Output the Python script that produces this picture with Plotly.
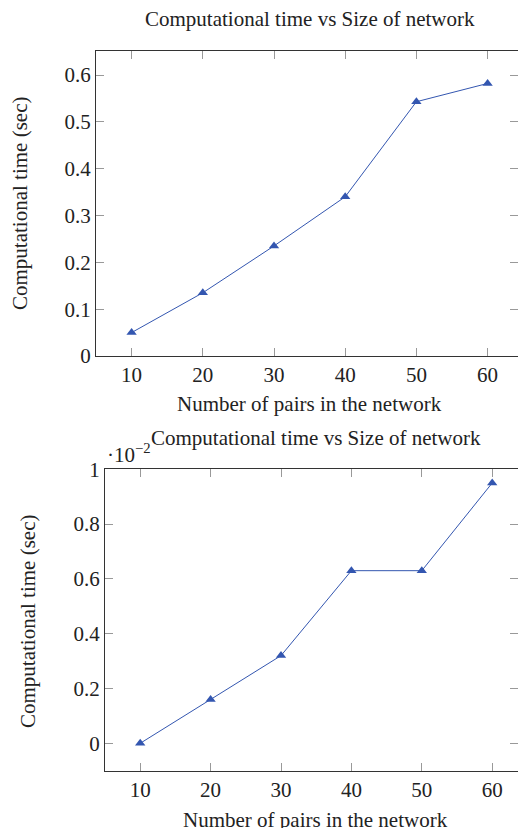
import plotly.graph_objects as go

# ---- data ----
pairs = [10, 20, 30, 40, 50, 60]
time_top = [0.05, 0.135, 0.235, 0.34, 0.543, 0.582]          # seconds
time_bottom = [0.0, 0.16, 0.32, 0.63, 0.63, 0.95]            # x 10^-2 seconds
x_ticks = [10, 20, 30, 40, 50, 60]
y_ticks_top = [0, 0.1, 0.2, 0.3, 0.4, 0.5, 0.6]
y_tick_text_top = ["0", "0.1", "0.2", "0.3", "0.4", "0.5", "0.6"]
y_ticks_bottom = [0, 0.2, 0.4, 0.6, 0.8, 1.0]
y_tick_text_bottom = ["0", "0.2", "0.4", "0.6", "0.8", "1"]
title_text = "Computational time vs Size of network"
xlabel = "Number of pairs in the network"
ylabel = "Computational time (sec)"

W, H = 518, 828
FONT = "Liberation Serif"
LINE_BLUE = "#3356b0"
TXT = "#222222"

def px(x):
    return x / W

def py(y):
    return 1 - y / H

fig = go.Figure()
fig.add_trace(go.Scatter(x=pairs, y=time_top, mode="lines+markers",
                         line=dict(color=LINE_BLUE, width=1),
                         marker=dict(symbol="triangle-up", size=9, color=LINE_BLUE),
                         xaxis="x", yaxis="y", showlegend=False))
fig.add_trace(go.Scatter(x=pairs, y=time_bottom, mode="lines+markers",
                         line=dict(color=LINE_BLUE, width=1),
                         marker=dict(symbol="triangle-up", size=9, color=LINE_BLUE),
                         xaxis="x2", yaxis="y2", showlegend=False))

common = dict(showgrid=False, zeroline=False, showline=True, linecolor="#333333",
              linewidth=1.2, ticks="inside", ticklen=8, tickcolor="#999999",
              tickwidth=1, mirror="ticks", automargin=False,
              tickfont=dict(family=FONT, size=21, color=TXT))

fig.update_layout(
    template="none",
    font=dict(family=FONT, size=21, color=TXT),
    width=W, height=H,
    margin=dict(l=0, r=0, t=0, b=0, pad=0, autoexpand=False),
    paper_bgcolor="white", plot_bgcolor="white",
    xaxis=dict(domain=[px(96), 1.0], range=[5, 5 + (518 - 96) / 7.12],
               tickvals=x_ticks, anchor="y", **common),
    yaxis=dict(domain=[py(356), py(51)], range=[0, 0.6513],
               tickvals=y_ticks_top, ticktext=y_tick_text_top, anchor="x", **common),
    xaxis2=dict(domain=[px(105), 1.0], range=[5, 5 + (518 - 105) / 7.04],
                tickvals=x_ticks, anchor="y2", **common),
    yaxis2=dict(domain=[py(770.7), py(469.3)], range=[-0.1, 1.0],
                tickvals=y_ticks_bottom, ticktext=y_tick_text_bottom, anchor="x2", **common),
)

ann_font = dict(family=FONT, size=21, color=TXT)
annotations = [
    dict(text=title_text, x=px(309.5), y=py(19), xanchor="center", yanchor="middle"),
    dict(text=xlabel, x=px(309.5), y=py(404), xanchor="center", yanchor="middle"),
    dict(text=ylabel, x=px(20), y=py(204), xanchor="center", yanchor="middle", textangle=-90),
    dict(text=title_text, x=px(316), y=py(438), xanchor="center", yanchor="middle"),
    dict(text="·10<sup>−2</sup>", x=px(105), y=py(453), xanchor="left", yanchor="middle"),
    dict(text=xlabel, x=px(315.5), y=py(820), xanchor="center", yanchor="middle"),
    dict(text=ylabel, x=px(28), y=py(622), xanchor="center", yanchor="middle", textangle=-90),
]
for a in annotations:
    a.update(xref="paper", yref="paper", showarrow=False, font=ann_font)
fig.update_layout(annotations=annotations)

post = """
document.documentElement.style.margin='0';
document.body.style.margin='0';
document.documentElement.style.overflow='hidden';
document.body.style.overflow='hidden';
"""
fig.write_html("out.html", config={"displayModeBar": False}, post_script=post)
